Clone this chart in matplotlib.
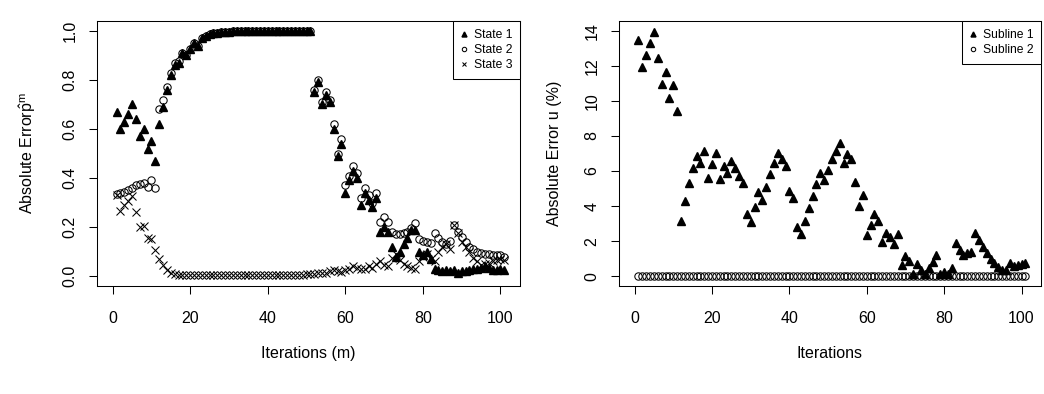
import numpy as np
import matplotlib
matplotlib.use('Agg')
import matplotlib.pyplot as plt

plt.rcParams['font.family'] = ['Liberation Sans', 'DejaVu Sans']
plt.rcParams['mathtext.fontset'] = 'custom'
plt.rcParams['mathtext.rm'] = 'Liberation Sans'
plt.rcParams['mathtext.it'] = 'Liberation Sans:italic'

# iteration index (1..101)
iterations = np.arange(1, 102)

state1 = [
    0.67, 0.60, 0.63, 0.66, 0.70, 0.64, 0.57, 0.60, 0.52, 0.55,
    0.47, 0.62, 0.69, 0.76, 0.82, 0.86, 0.87, 0.91, 0.90, 0.925,
    0.95, 0.94, 0.97, 0.98, 0.985, 0.99, 0.993, 0.995, 0.996, 0.997,
    0.998, 0.998, 0.998, 0.999, 0.999, 0.999, 0.999, 0.999, 1.0, 1.0,
    1.0, 1.0, 1.0, 1.0, 1.0, 1.0, 1.0, 1.0, 1.0, 1.0,
    1.0, 0.75, 0.79, 0.70, 0.74, 0.71, 0.60, 0.49, 0.54, 0.34,
    0.39, 0.43, 0.40, 0.29, 0.34, 0.31, 0.28, 0.32, 0.18, 0.20,
    0.18, 0.12, 0.08, 0.10, 0.13, 0.155, 0.19, 0.19, 0.10, 0.085,
    0.10, 0.07, 0.03, 0.025, 0.02, 0.025, 0.02, 0.025, 0.015, 0.02,
    0.02, 0.025, 0.03, 0.03, 0.035, 0.04, 0.035, 0.025, 0.025, 0.03,
    0.025,
]
state2 = [
    0.335, 0.34, 0.345, 0.35, 0.36, 0.37, 0.375, 0.38, 0.365, 0.39,
    0.36, 0.68, 0.72, 0.77, 0.83, 0.87, 0.875, 0.91, 0.90, 0.925,
    0.95, 0.94, 0.97, 0.98, 0.985, 0.99, 0.993, 0.995, 0.996, 0.997,
    0.998, 0.998, 0.998, 0.999, 0.999, 0.999, 0.999, 0.999, 1.0, 1.0,
    1.0, 1.0, 1.0, 1.0, 1.0, 1.0, 1.0, 1.0, 1.0, 1.0,
    1.0, 0.76, 0.80, 0.71, 0.75, 0.72, 0.62, 0.50, 0.56, 0.37,
    0.41, 0.45, 0.42, 0.32, 0.36, 0.33, 0.30, 0.34, 0.22, 0.24,
    0.22, 0.18, 0.17, 0.17, 0.175, 0.18, 0.195, 0.215, 0.15, 0.145,
    0.14, 0.135, 0.175, 0.155, 0.14, 0.13, 0.145, 0.21, 0.18, 0.16,
    0.14, 0.12, 0.11, 0.10, 0.095, 0.09, 0.09, 0.085, 0.085, 0.085,
    0.08,
]
state3 = [
    0.33, 0.265, 0.29, 0.305, 0.325, 0.26, 0.20, 0.205, 0.155, 0.15,
    0.105, 0.07, 0.045, 0.027, 0.014, 0.008, 0.005, 0.003, 0.003, 0.003,
    0.003, 0.003, 0.003, 0.003, 0.003, 0.003, 0.003, 0.003, 0.003, 0.003,
    0.003, 0.003, 0.003, 0.003, 0.003, 0.003, 0.003, 0.003, 0.003, 0.003,
    0.003, 0.003, 0.004, 0.004, 0.004, 0.005, 0.005, 0.005, 0.006, 0.007,
    0.008, 0.01, 0.012, 0.015, 0.012, 0.02, 0.025, 0.02, 0.018, 0.025,
    0.03, 0.04, 0.035, 0.028, 0.03, 0.04, 0.035, 0.05, 0.06, 0.045,
    0.04, 0.075, 0.09, 0.065, 0.05, 0.04, 0.035, 0.03, 0.06, 0.08,
    0.09, 0.07, 0.06, 0.10, 0.12, 0.13, 0.11, 0.21, 0.175, 0.14,
    0.12, 0.10, 0.075, 0.06, 0.045, 0.05, 0.055, 0.06, 0.065, 0.07,
    0.065,
]

subline1 = [
    13.5, 11.95, 12.6, 13.3, 13.95, 12.45, 10.95, 11.65, 10.15, 10.9,
    9.45, 3.17, 4.3, 5.3, 6.15, 6.88, 6.48, 7.17, 5.63, 6.39,
    7.05, 5.52, 6.29, 5.86, 6.58, 6.18, 5.74, 5.29, 3.55, 3.1,
    3.97, 4.79, 4.35, 5.1, 5.82, 6.44, 7.03, 6.67, 6.31, 4.84,
    4.44, 2.8, 2.42, 3.17, 3.87, 4.6, 5.25, 5.86, 5.48, 6.08,
    6.67, 7.14, 7.6, 6.47, 6.99, 6.67, 5.4, 4.03, 4.65, 2.36,
    2.93, 3.55, 3.14, 1.97, 2.47, 2.23, 1.85, 2.38, 0.66, 1.13,
    0.87, 0.12, 0.72, 0.34, 0.12, 0.49, 0.81, 1.23, 0.12, 0.24,
    0.15, 0.49, 1.89, 1.51, 1.19, 1.34, 1.38, 2.48, 2.04, 1.66,
    1.32, 1.0, 0.76, 0.53, 0.34, 0.34, 0.76, 0.57, 0.66, 0.72,
    0.78,
]
subline2 = [0.0] * 101

left_labels = ['State 1', 'State 2', 'State 3']
right_labels = ['Subline 1', 'Subline 2']

W, H = 1044, 394
fig = plt.figure(figsize=(W / 100, H / 100), dpi=100)
ax1 = fig.add_axes([97 / W, 1 - 286 / H, 423 / W, 265 / H])
ax2 = fig.add_axes([619 / W, 1 - 286 / H, 422 / W, 265 / H])

tri = dict(marker='^', ms=6, color='black', linestyle='none')
circ = dict(marker='o', ms=5.3, mfc='none', mec='black', mew=0.75, linestyle='none')
cross = dict(marker='x', ms=5.3, color='black', mew=0.75, linestyle='none')

ax1.plot(iterations, state1, label=left_labels[0], **tri)
ax1.plot(iterations, state2, label=left_labels[1], **circ)
ax1.plot(iterations, state3, label=left_labels[2], **cross)

ax2.plot(iterations, subline1, label=right_labels[0], **tri)
ax2.plot(iterations, subline2, label=right_labels[1], **circ)

ax1.set_xlim(-4.04, 105.04)
ax1.set_ylim(-0.04, 1.04)
ax1.set_yticks([0.0, 0.2, 0.4, 0.6, 0.8, 1.0])
ax1.set_yticklabels(['0.0', '0.2', '0.4', '0.6', '0.8', '1.0'])
ax2.set_xlim(-4.04, 105.04)
ax2.set_ylim(-0.56, 14.56)
ax2.set_yticks(range(0, 15, 2))

for ax in (ax1, ax2):
    ax.set_xticks(range(0, 101, 20))
    for s in ax.spines.values():
        s.set_linewidth(0.75)
    ax.tick_params(axis='both', direction='out', length=5.5, width=0.75,
                   labelsize=11.5)
    ax.tick_params(axis='x', pad=12.5)
    ax.tick_params(axis='y', pad=8.5, labelrotation=90)
    for t in ax.get_yticklabels():
        t.set_va('center')

ax1.set_xlabel('Iterations (m)', fontsize=11.5)
ax1.set_ylabel(r'Absolute Error$\mathrm{\hat{p}^{m}}$', fontsize=11.5)
ax2.set_xlabel('Iterations', fontsize=11.5)
ax2.set_ylabel('Absolute Error u (%)', fontsize=11.5)
ax1.xaxis.set_label_coords(0.5, -0.253)
ax2.xaxis.set_label_coords(0.5, -0.253)
ax1.yaxis.set_label_coords(-0.163, 0.5)
ax2.yaxis.set_label_coords(-0.152, 0.5)
for ax in (ax1, ax2):
    ax.xaxis.label.set_va('center')
    ax.yaxis.label.set_va('center')

for ax in (ax1, ax2):
    leg = ax.legend(loc='upper right', borderaxespad=0, fancybox=False,
                    edgecolor='black', framealpha=1, fontsize=8.7,
                    markerscale=0.6, handlelength=0.5, handletextpad=0.55,
                    borderpad=0.65, labelspacing=0.25)
    leg.get_frame().set_linewidth(0.75)

fig.savefig('out.png', dpi=100)
